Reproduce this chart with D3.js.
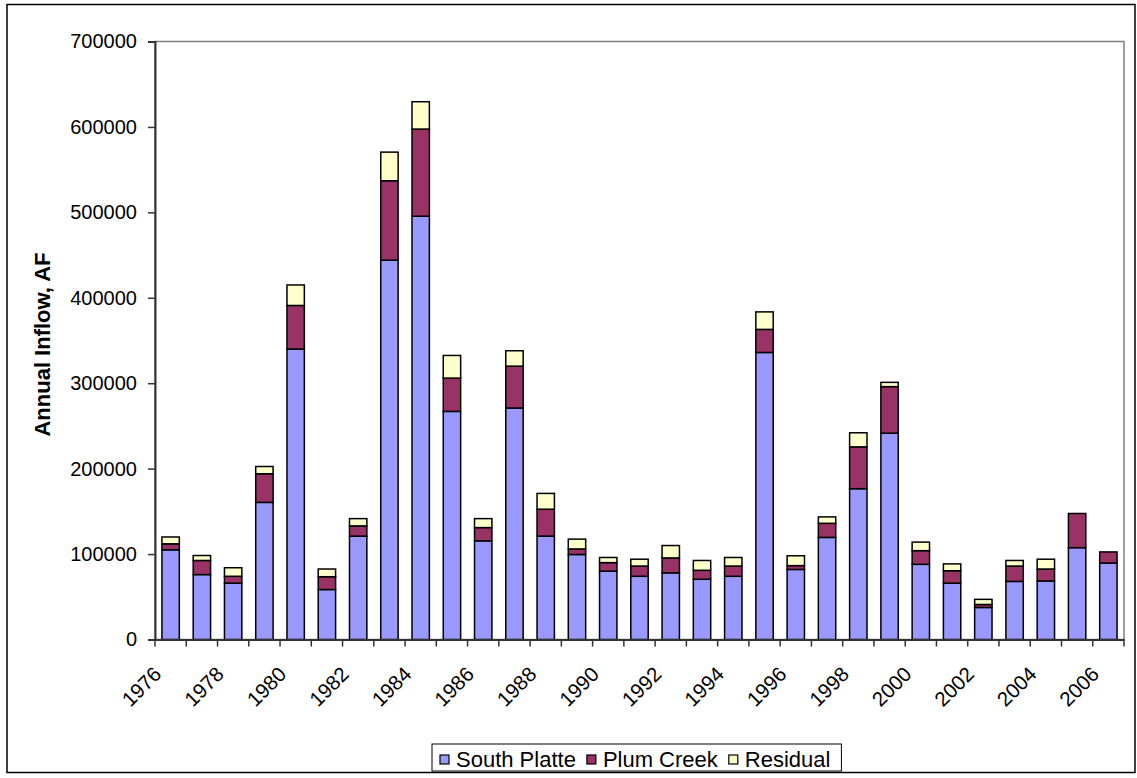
<!DOCTYPE html>
<html>
<head>
<meta charset="utf-8">
<script src="https://cdn.jsdelivr.net/npm/d3@7"></script>
<style>
  html, body { margin: 0; padding: 0; background: #fff; }
  svg { display: block; font-family: "Liberation Sans", Arial, sans-serif; }
</style>
</head>
<body>
<svg id="chart" width="1137" height="778"></svg>
<script>
// Annual inflow by source, acre-feet
const years = d3.range(1976, 2007);
const southPlatte = [105000, 76000, 66000, 160500, 340000, 58500, 121000, 444000, 495500, 267000,
  115500, 271000, 121000, 99500, 80000, 74000, 78000, 70500, 74000, 336000,
  82000, 119500, 176500, 241500, 88000, 66000, 37500, 68000, 68500, 107500, 89500];
const plumCreek = [7000, 16500, 8000, 33500, 51000, 15000, 12000, 93000, 102000, 39000,
  15500, 49000, 31500, 6500, 10000, 12000, 17500, 10500, 12000, 27000,
  4500, 16500, 49000, 54500, 16000, 14500, 3500, 18000, 14000, 40000, 13000];
const residual = [8000, 5800, 10000, 8500, 24000, 9000, 8500, 33500, 32000, 26500,
  10500, 18000, 18500, 11500, 6000, 8000, 14500, 11500, 10000, 20500,
  11500, 7500, 16500, 5000, 10000, 8000, 6000, 6500, 11500, 0, 0];
const yTicks = [0, 100000, 200000, 300000, 400000, 500000, 600000, 700000];
const xLabelYears = years.filter((y, i) => i % 2 === 0);

const seriesNames = ["South Platte", "Plum Creek", "Residual"];
const seriesColors = ["#9999FF", "#993366", "#FFFFCC"];

const rows = years.map((yr, i) => ({
  year: yr,
  "South Platte": southPlatte[i],
  "Plum Creek": plumCreek[i],
  "Residual": residual[i]
}));

const svg = d3.select("#chart");
const plot = { left: 155, right: 1124, top: 41.5, bottom: 639.5 };

// outer chart frame
svg.append("rect")
  .attr("x", 7).attr("y", 4.5).attr("width", 1128).attr("height", 768)
  .attr("fill", "none").attr("stroke", "#000").attr("stroke-width", 1.5);

const x = d3.scaleBand()
  .domain(years)
  .range([plot.left, plot.right])
  .paddingInner(0.444)
  .paddingOuter(0.222);

const y = d3.scaleLinear()
  .domain([0, 700000])
  .range([plot.bottom, plot.top]);

// plot area border
svg.append("rect")
  .attr("x", plot.left).attr("y", plot.top)
  .attr("width", plot.right - plot.left).attr("height", plot.bottom - plot.top)
  .attr("fill", "none").attr("stroke", "#808080").attr("stroke-width", 1.5);

// stacked bars
const stack = d3.stack().keys(seriesNames);
const layers = stack(rows);

svg.append("g").selectAll("g")
  .data(layers)
  .join("g")
  .attr("fill", (d, i) => seriesColors[i])
  .selectAll("rect")
  .data(d => d)
  .join("rect")
  .attr("x", d => x(d.data.year))
  .attr("width", x.bandwidth())
  .attr("y", d => y(d[1]))
  .attr("height", d => y(d[0]) - y(d[1]))
  .attr("stroke", "#000")
  .attr("stroke-width", 1.5);

// y axis
const yAxis = svg.append("g")
  .attr("transform", `translate(${plot.left},0)`)
  .call(d3.axisLeft(y).tickValues(yTicks).tickSize(7).tickPadding(11).tickFormat(d3.format("d")));
yAxis.select(".domain").attr("stroke", "#333").attr("stroke-width", 2);
yAxis.selectAll(".tick line").attr("stroke", "#333").attr("stroke-width", 1.5);
yAxis.selectAll(".tick text")
  .attr("font-size", 20)
  .attr("font-family", "Liberation Sans, Arial, sans-serif")
  .attr("fill", "#000");

// x axis: line, boundary ticks, rotated labels
const xAxis = svg.append("g")
  .attr("transform", `translate(0,${plot.bottom})`)
  .call(d3.axisBottom(x).tickValues(xLabelYears).tickSize(0).tickFormat(d3.format("d")));
xAxis.select(".domain").attr("stroke", "#333").attr("stroke-width", 2);
xAxis.selectAll(".tick text")
  .attr("font-size", 20.5)
  .attr("font-family", "Liberation Sans, Arial, sans-serif")
  .attr("fill", "#000")
  .attr("text-anchor", "end")
  .attr("dy", null)
  .attr("y", null)
  .attr("transform", "translate(-8,36) rotate(-45)");

const boundaries = years.map(yr => x(yr) + x.bandwidth() / 2 - x.step() / 2)
  .concat([x(years[years.length - 1]) + x.bandwidth() / 2 + x.step() / 2]);
svg.append("g").selectAll("line")
  .data(boundaries)
  .join("line")
  .attr("x1", d => d).attr("x2", d => d)
  .attr("y1", plot.bottom).attr("y2", plot.bottom + 7)
  .attr("stroke", "#333").attr("stroke-width", 1.5);

// y axis title
svg.append("text")
  .attr("transform", `translate(50,${(plot.top + plot.bottom) / 2 + 4}) rotate(-90)`)
  .attr("text-anchor", "middle")
  .attr("font-size", 22)
  .attr("font-weight", "bold")
  .text("Annual Inflow, AF");

// legend
const legend = svg.append("g");
const legendBox = legend.append("rect")
  .attr("fill", "#fff").attr("stroke", "#000").attr("stroke-width", 1);
let cursor = 440;
const legendY = 758;
seriesNames.forEach((name, i) => {
  legend.append("rect")
    .attr("x", cursor).attr("y", legendY - 3)
    .attr("width", 9).attr("height", 9)
    .attr("fill", seriesColors[i]).attr("stroke", "#000").attr("stroke-width", 1.2);
  const t = legend.append("text")
    .attr("x", cursor + 16).attr("y", legendY + 9)
    .attr("font-size", 22)
    .text(name);
  cursor += 16 + t.node().getComputedTextLength() + 11;
});
legendBox.attr("x", 432).attr("y", 744).attr("width", cursor - 432).attr("height", 27);
</script>
</body>
</html>
